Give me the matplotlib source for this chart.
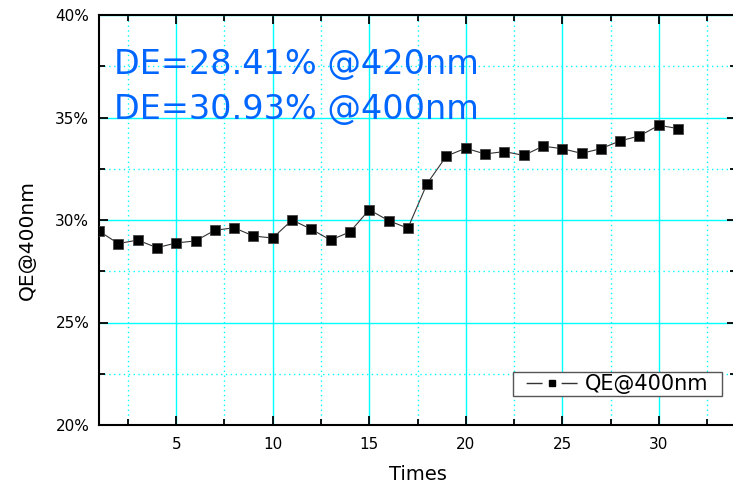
import numpy as np
import matplotlib
matplotlib.use("Agg")
import matplotlib.pyplot as plt
from matplotlib.lines import Line2D
from matplotlib.ticker import MultipleLocator, FuncFormatter

plt.rcParams['font.family'] = ['DejaVu Sans']

# measured QE at 400nm per run
times = list(range(1, 32))
qe400 = [29.46, 28.85, 29.02, 28.65, 28.88, 28.98, 29.50, 29.62, 29.22, 29.12,
         30.00, 29.55, 29.02, 29.42, 30.50, 29.97, 29.60, 31.78, 33.12, 33.50,
         33.22, 33.34, 33.15, 33.60, 33.48, 33.25, 33.48, 33.86, 34.10, 34.62,
         34.46]
notes = ["DE=28.41% @420nm", "DE=30.93% @400nm"]

fig = plt.figure(figsize=(7.33, 4.83), dpi=100)
ax = fig.add_axes([99/733, 58/483, 637/733, 410/483])

ax.plot(times, qe400, color='#333333', lw=0.8, marker='s', markersize=7.3,
        markerfacecolor='black', markeredgecolor='#444444', markeredgewidth=0.6,
        zorder=3)

ax.set_xlim(1, 34)
ax.set_ylim(20, 40)
ax.xaxis.set_major_locator(MultipleLocator(5))
ax.xaxis.set_minor_locator(MultipleLocator(2.5))
ax.yaxis.set_major_locator(MultipleLocator(5))
ax.yaxis.set_minor_locator(MultipleLocator(2.5))
ax.yaxis.set_major_formatter(FuncFormatter(lambda v, p: f"{v:.0f}%"))

ax.grid(which='major', color='#00FFFF', lw=1.0, ls='-', zorder=0)
ax.grid(which='minor', color='#00FFFF', lw=1.0, ls=(0, (1, 2.5)), zorder=0)

ax.tick_params(which='both', direction='in', top=True, right=True, width=1.3,
               labelsize=11, colors='black')
ax.tick_params(which='major', length=6.5)
ax.tick_params(axis='y', which='major', pad=7)
ax.tick_params(axis='x', which='major', pad=8.5)
ax.tick_params(which='minor', length=4)
for s in ax.spines.values():
    s.set_linewidth(1.5)

ax.set_xlabel('Times', fontsize=14, labelpad=9.5)
ax.set_ylabel('QE@400nm', fontsize=14.5)
ax.yaxis.set_label_coords(-0.098, 0.451)

ax.text(0.0235, 0.856, notes[0], transform=ax.transAxes, fontsize=24.1,
        color='#0066FF', va='baseline', ha='left')
ax.text(0.0235, 0.746, notes[1], transform=ax.transAxes, fontsize=24.1,
        color='#0066FF', va='baseline', ha='left')

# legend entry: blank lead, line, gap round the symbol, line, blank tail
proxy = Line2D([], [], color='#333333', lw=1.0,
               ls=(48.7, (11.5, 13.7, 11.5, 20)),
               marker='s', markersize=5, markerfacecolor='black',
               markeredgecolor='black')
leg = ax.legend([proxy], ['QE@400nm'], loc='lower left',
                bbox_to_anchor=(0.65, 0.071, 0.328, 0.063), mode='expand',
                borderaxespad=0, fontsize=15, fancybox=False,
                edgecolor='#555555', framealpha=1, handlelength=3.51,
                borderpad=0.1, handletextpad=-0.15)
leg.get_frame().set_linewidth(1.0)

fig.savefig('out.png', dpi=100)
